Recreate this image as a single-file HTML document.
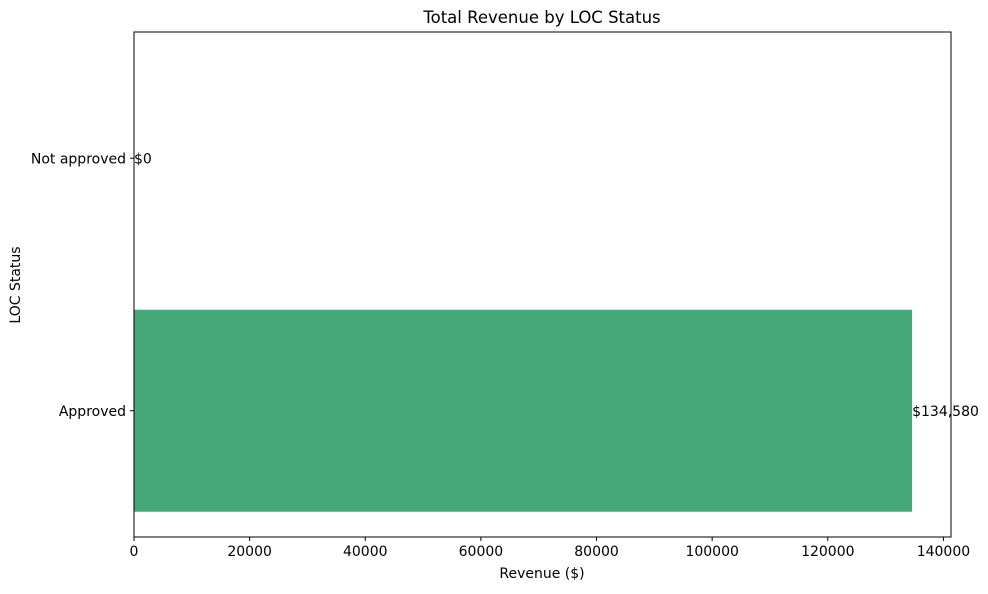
<!DOCTYPE html>
<html><head><meta charset="utf-8"><style>
body{margin:0;background:#fff;font-family:"DejaVu Sans","Liberation Sans",sans-serif;}
text{font-family:"DejaVu Sans","Liberation Sans",sans-serif;}
</style></head><body>
<svg id="chart" width="988" height="590" viewBox="0 0 988 590">
<text x="542" y="23" font-size="16.5" text-anchor="middle">Total Revenue by LOC Status</text>
<g id="bars"></g>
<g id="xaxis"></g>
<g id="yaxis"></g>
<rect x="134" y="32" width="817" height="505" fill="none" stroke="#000" stroke-width="1"/>
<text x="542" y="578" font-size="14" text-anchor="middle">Revenue ($)</text>
<text x="20" y="285" font-size="14" text-anchor="middle" transform="rotate(-90 20 285)">LOC Status</text>
</svg>
<script>
const categories = ["Approved", "Not approved"];
const revenues = [134580, 0];
const valueLabels = ["$134,580", "$0"];
const xTicks = [0, 20000, 40000, 60000, 80000, 100000, 120000, 140000];
const NS = "http://www.w3.org/2000/svg";
const L = 134, R = 951, T = 32, B = 537;
const xMax = Math.max(...revenues) * 1.05 || 1;
const xs = v => L + v / xMax * (R - L);
const yMin = -0.5, yMax = categories.length - 0.5;
const ys = i => B - (i - yMin) / (yMax - yMin) * (B - T);
const band = (B - T) / (yMax - yMin);
function mk(tag, attrs, parent){const e=document.createElementNS(NS,tag);for(const k in attrs)e.setAttribute(k,attrs[k]);parent.appendChild(e);return e;}
const gb = document.getElementById("bars"), gx = document.getElementById("xaxis"), gy = document.getElementById("yaxis");
categories.forEach((c, i) => {
  const yc = ys(i), h = band * 0.8;
  const r = mk("rect", {x: xs(0), y: yc - h/2, width: xs(revenues[i]) - xs(0), height: h, fill: "#46a878"}, gb);
  
  
  const t = mk("text", {x: xs(revenues[i]), y: yc + 5, "font-size": 14}, gb);
  t.textContent = valueLabels[i];
  
  
  mk("line", {x1: L - 4, x2: L, y1: yc, y2: yc, stroke: "#000"}, gy);
  const yl = mk("text", {x: L - 8, y: yc + 5, "font-size": 14, "text-anchor": "end"}, gy);
  yl.textContent = c;
  
  
});
xTicks.forEach(v => {
  const x = xs(v);
  mk("line", {x1: x, x2: x, y1: B, y2: B + 4, stroke: "#000"}, gx);
  const t = mk("text", {x: x, y: B + 19, "font-size": 14, "text-anchor": "middle"}, gx);
  t.textContent = v;
  
  
});
</script>
</body></html>
